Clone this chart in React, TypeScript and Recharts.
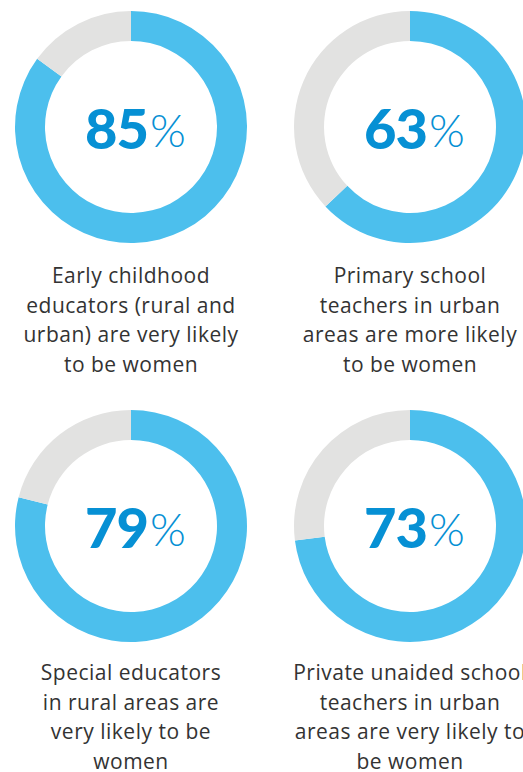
import { PieChart, Pie, Cell } from 'recharts';

const BLUE = '#4cbfed';
const GREY = '#e2e2e1';
const NUMBER_BLUE = '#0690d4';

const shares = [85, 63, 79, 73];
const captions = [
    ['Early childhood', 'educators (rural and', 'urban) are very likely', 'to be women'],
    ['Primary school', 'teachers in urban', 'areas are more likely', 'to be women'],
    ['Special educators', 'in rural areas are', 'very likely to be', 'women'],
    ['Private unaided school', 'teachers in urban', 'areas are very likely to', 'be women'],
];

// panel centres (x, y of ring) and caption top
const centers = [
    { x: 131, y: 127, captionTop: 261 },
    { x: 410, y: 127, captionTop: 261 },
    { x: 131, y: 526, captionTop: 658 },
    { x: 410, y: 526, captionTop: 658 },
];

function Donut({ value, cx, cy }: { value: number, cx: number, cy: number }) {
    const data = [
        { name: 'women', value },
        { name: 'rest', value: 100 - value },
    ];
    const size = 240;
    return (
        <div style={{ position: 'absolute', left: cx - size / 2, top: cy - size / 2 }}>
            <PieChart width={size} height={size}>
                <Pie
                    data={data}
                    dataKey="value"
                    cx="50%"
                    cy="50%"
                    innerRadius={86}
                    outerRadius={116}
                    startAngle={90}
                    endAngle={-270}
                    stroke="none"
                    isAnimationActive={false}
                >
                    {data.map((_, i) => (
                        <Cell key={`c-${i}`} fill={i === 0 ? BLUE : GREY} />
                    ))}
                </Pie>
            </PieChart>
            <div style={{
                position: 'absolute', left: 0, top: 0, width: size, height: size,
                display: 'flex', alignItems: 'center', justifyContent: 'center',
                paddingLeft: 9, boxSizing: 'border-box',
                color: NUMBER_BLUE, fontFamily: 'Lato, "Open Sans", sans-serif',
            }}>
                <span style={{ fontSize: 56, fontWeight: 900, letterSpacing: -1 }}>{value}</span>
                <span style={{ fontSize: 46, fontWeight: 300, marginLeft: 2, marginTop: 4 }}>%</span>
            </div>
        </div>
    );
}

export default function App() {
    return (
        <div style={{
            position: 'absolute', left: 0, top: 0, width: 523, height: 772,
            overflow: 'hidden', background: '#ffffff',
        }}>
            {shares.map((v, i) => (
                <Donut key={i} value={v} cx={centers[i].x} cy={centers[i].y} />
            ))}
            {captions.map((lines, i) => (
                <div key={`t-${i}`} style={{
                    position: 'absolute', left: centers[i].x - 150, top: centers[i].captionTop,
                    width: 300, textAlign: 'center', fontFamily: '"Open Sans", sans-serif',
                    fontSize: 21, letterSpacing: 0.5, lineHeight: '29.5px', color: '#333333',
                    whiteSpace: 'nowrap',
                }}>
                    {lines.map((l, j) => <div key={j}>{l}</div>)}
                </div>
            ))}
        </div>
    );
}
